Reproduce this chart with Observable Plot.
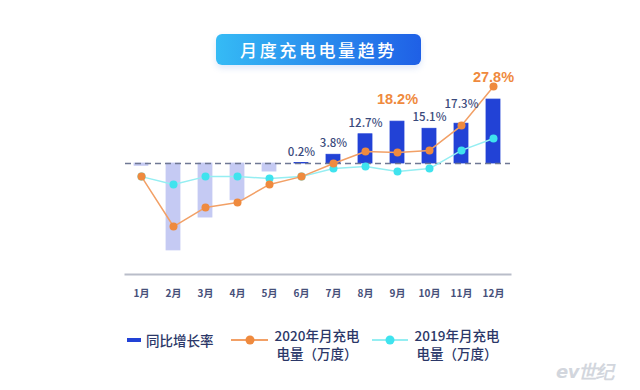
<!DOCTYPE html>
<html><head><meta charset="utf-8">
<script src="https://cdn.jsdelivr.net/npm/d3@7"></script>
<script src="https://cdn.jsdelivr.net/npm/@observablehq/plot@0.6"></script>
<style>
html,body{margin:0;padding:0;background:#fff;}
body{width:640px;height:390px;overflow:hidden;font-family:"Noto Sans CJK SC","Noto Sans",sans-serif;}
#wrap{position:relative;width:640px;height:390px;}
#chart{position:absolute;left:0;top:0;}
#title{position:absolute;left:216px;top:34px;width:205px;height:31px;border-radius:6px;background:linear-gradient(90deg,#35bbf5,#1f60e6);color:#fff;font-size:17px;font-weight:500;letter-spacing:2.6px;text-align:center;line-height:31px;box-shadow:0 3px 6px rgba(60,120,220,0.18);}
.lg{position:absolute;color:#2b3768;font-size:13.5px;line-height:18px;font-weight:500;}
.sw{position:absolute;}
#wm{position:absolute;left:556px;top:360px;font-size:18px;font-style:italic;font-weight:bold;color:#d2d6dd;font-family:"DejaVu Sans",sans-serif;letter-spacing:-0.5px;}
</style></head>
<body><div id="wrap">
<div id="chart"></div>
<div id="title">月度充电电量趋势</div>
<div id="legend"></div>
<div id="wm">ev世纪</div>
</div>
<script>
const months = ["1月","2月","3月","4月","5月","6月","7月","8月","9月","10月","11月","12月"];
const growth = [-1, -37.8, -23.5, -16, -3.5, 0.2, 3.8, 12.7, 18.2, 15.1, 17.3, 27.8];
// relative charging volume (万度), index units: 100 = baseline level
const charge2020 = [94.3, 72.6, 80.9, 83.0, 90.9, 94.3, 100, 105.2, 104.8, 105.7, 116.5, 133.5];
const charge2019 = [94.3, 90.9, 94.3, 94.3, 93.5, 94.3, 97.8, 98.7, 96.5, 97.8, 105.7, 110.9];
const highlight = ["9月","12月"];
const raised = ["11月"];
const legendNames = ["同比增长率", "2020年月充电\n电量（万度）", "2019年月充电\n电量（万度）"];

const data = months.map((m,i)=>({month:m, growth:growth[i], c2020:charge2020[i], c2019:charge2019[i]}));
const toPct = v => v - 100;
const dark = "#2242d6", light = "#c5caf3", orange = "#ef8a3e", cyan = "#3fe3ee";
const pos = data.filter(d=>d.growth>0);
const fmt = d => d.growth.toFixed(1) + "%";

const chart = Plot.plot({
  width: 640, height: 310,
  marginLeft: 125, marginRight: 130, marginTop: 48, marginBottom: 36,
  x: {domain: months, paddingInner: 0.56, paddingOuter: 0.28, axis: null},
  y: {domain: [-48.26, 50], axis: null},
  style: {fontFamily: '"Noto Sans CJK SC","Noto Sans",sans-serif', background: "transparent"},
  marks: [
    Plot.barY(data, {x:"month", y:"growth", fill: d => d.growth > 0 ? dark : light, stroke: d => d.growth > 0 ? dark : light, strokeWidth: 0.8}),
    Plot.ruleY([0], {stroke:"#6f7894", strokeWidth:1.3, strokeDasharray:"6,4"}),
    Plot.frame({anchor:"bottom", stroke:"#b9bdc9", strokeWidth:2}),
    Plot.axisX({domain: months, tickSize:0, tickPadding:15, fontSize:10, fontWeight:600, fill:"#46507a", label:null}),
    Plot.line(data, {x:"month", y: d => toPct(d.c2019), stroke:"#95eef2", strokeWidth:1.5}),
    Plot.dot(data, {x:"month", y: d => toPct(d.c2019), r:4, fill:cyan}),
    Plot.line(data, {x:"month", y: d => toPct(d.c2020), stroke:"#f2a066", strokeWidth:1.5}),
    Plot.dot(data, {x:"month", y: d => toPct(d.c2020), r:4, fill:orange}),
    Plot.text(pos.filter(d=>!highlight.includes(d.month) && !raised.includes(d.month)), {x:"month", y:"growth", text:fmt, dy:-11, fontSize:11.5, fontWeight:500, fill:"#3a4a7c"}),
    Plot.text(pos.filter(d=>raised.includes(d.month)), {x:"month", y:"growth", text:fmt, dy:-19, fontSize:11.5, fontWeight:500, fill:"#3a4a7c"}),
    Plot.text(pos.filter(d=>highlight.includes(d.month)), {x:"month", y:"growth", text:fmt, dy:-22, fontSize:14.5, fontWeight:"bold", fill:orange, fontFamily:'"Liberation Sans Narrow","Liberation Sans",sans-serif'})
  ]
});
document.getElementById("chart").appendChild(chart);

// legend
const lg = document.getElementById("legend");
function add(html){ lg.insertAdjacentHTML("beforeend", html); }
add(`<div class="sw" style="left:127px;top:338px;width:14px;height:4px;background:${dark}"></div>`);
add(`<div class="lg" style="left:146px;top:331px;">${legendNames[0]}</div>`);
add(`<svg class="sw" style="left:231px;top:334px" width="37" height="12"><line x1="0" x2="37" y1="6" y2="6" stroke="#f2a066" stroke-width="2"/><circle cx="19" cy="6" r="4.5" fill="${orange}"/></svg>`);
add(`<div class="lg" style="left:262px;top:326px;width:110px;text-align:center;white-space:pre">${legendNames[1]}</div>`);
add(`<svg class="sw" style="left:372px;top:334px" width="36" height="12"><line x1="0" x2="36" y1="6" y2="6" stroke="#95eef2" stroke-width="2"/><circle cx="18" cy="6" r="4.5" fill="${cyan}"/></svg>`);
add(`<div class="lg" style="left:402px;top:326px;width:110px;text-align:center;white-space:pre">${legendNames[2]}</div>`);
</script>
</body></html>
